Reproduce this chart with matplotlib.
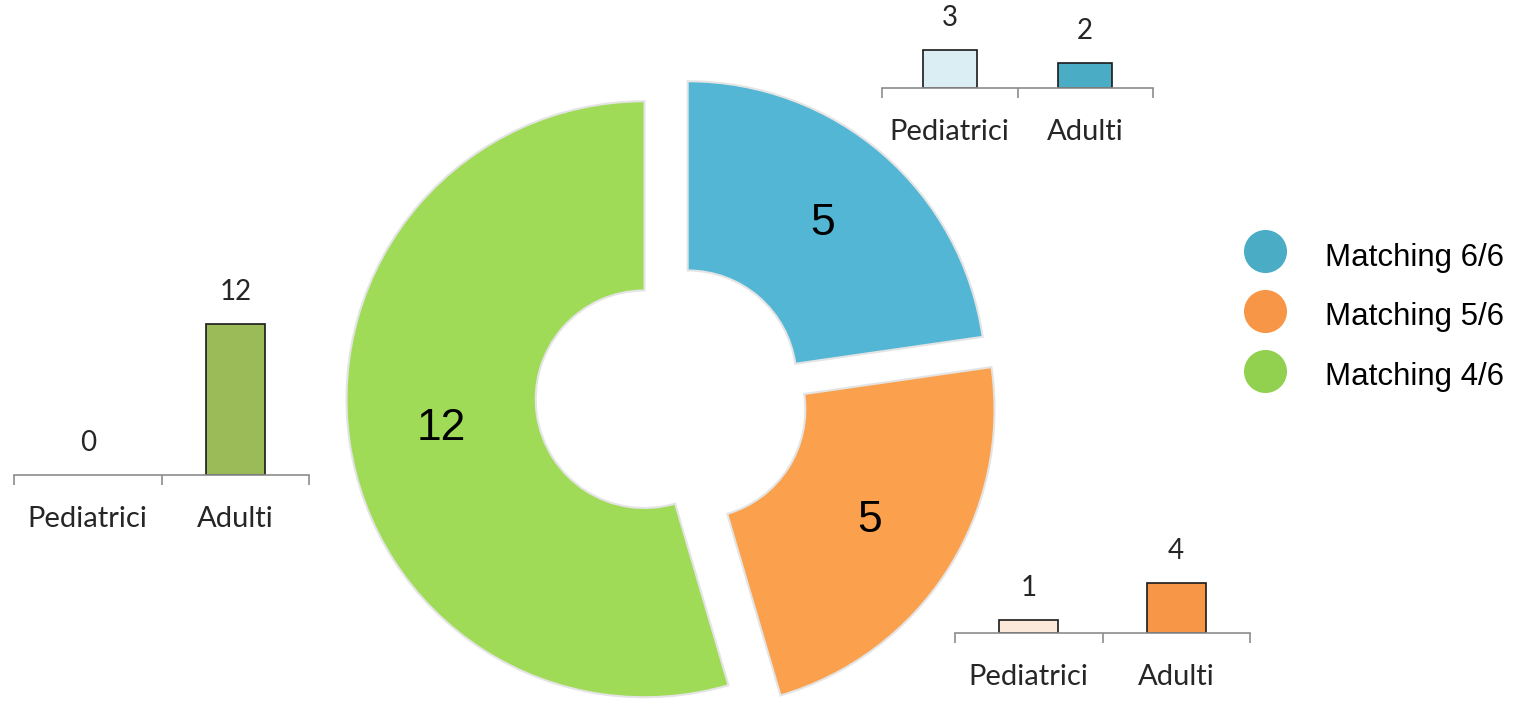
import matplotlib
matplotlib.use("Agg")
import matplotlib.pyplot as plt
from matplotlib.lines import Line2D

# ---- data ----
categories = ["Matching 6/6", "Matching 5/6", "Matching 4/6"]
totals = [5, 5, 12]
sub_categories = ["Pediatrici", "Adulti"]
pediatrici = [3, 1, 0]
adulti = [2, 4, 12]

# ---- style ----
donut_colors = ["#53B6D5", "#FBA04C", "#9FDB57"]
legend_colors = ["#4BACC6", "#F79646", "#92D050"]
bar_colors = [("#DAEEF3", "#4BACC6"), ("#FDE9D9", "#F79646"), ("#EBF1DE", "#9BBB59")]
R = 298
explode = [0.07 * R, 0.09 * R, 0.10 * R]

W, H = 1523, 705
fig = plt.figure(figsize=(W / 100, H / 100), dpi=100)

ax = fig.add_axes([0, 0, 1, 1])
wedges, texts, autotexts = ax.pie(
    totals, colors=donut_colors, startangle=90, counterclock=False,
    explode=explode, center=(674, H - 395), radius=R,
    autopct=lambda p: f"{round(p * sum(totals) / 100)}", pctdistance=0.69,
    wedgeprops=dict(width=R * 0.635, edgecolor="#E4E4E4", linewidth=1.5),
    textprops=dict(fontsize=32, color="black", family="Liberation Sans"),
)
ax.set_xlim(0, W)
ax.set_ylim(0, H)
ax.axis("off")

handles = [Line2D([], [], marker="o", linestyle="none", markersize=32,
                  markerfacecolor=c, markeredgecolor="white", markeredgewidth=1)
           for c in legend_colors]
fig.legend(handles, categories, loc="center left",
           bbox_to_anchor=(1227 / W, 1 - 315 / H), frameon=False,
           prop=dict(family="Liberation Sans", size=22.5),
           handlelength=1.4, handleheight=1.4, handletextpad=1.25,
           labelspacing=0.76, borderpad=0)

# small bar charts: (left px, axis y px from top, width px, data index)
px_per_unit = 12.6
bar_specs = [
    (14, 475, 295, 2),
    (882, 88, 271, 0),
    (955, 633, 295, 1),
]
for left, base, width, idx in bar_specs:
    top_units = 14
    h_px = top_units * px_per_unit
    bax = fig.add_axes([left / W, (H - base) / H, width / W, h_px / H])
    bax.patch.set_alpha(0)
    vals = [pediatrici[idx], adulti[idx]]
    bars = bax.bar([0, 1], vals, width=0.4,
                   color=bar_colors[idx], edgecolor="#1a1a1a",
                   linewidth=[1.2 if v > 0 else 0 for v in vals])
    for b, v in zip(bars, vals):
        bax.annotate(f"{v}", (b.get_x() + b.get_width() / 2, v),
                     xytext=(0, 23), textcoords="offset points",
                     ha="center", va="center", fontsize=20,
                     family="Lato", color="#262626")
    bax.set_xlim(-0.5, 1.5)
    bax.set_ylim(0, top_units)
    for s in ["top", "right", "left"]:
        bax.spines[s].set_visible(False)
    bax.spines["bottom"].set_color("#8C8C8C")
    bax.spines["bottom"].set_linewidth(1.2)
    bax.set_yticks([])
    bax.set_xticks([0, 1], sub_categories)
    bax.set_xticks([-0.5, 0.5, 1.5], minor=True)
    bax.tick_params(axis="x", which="major", length=0, pad=22,
                    labelsize=21, labelcolor="#262626")
    bax.tick_params(axis="x", which="minor", length=7, width=1.2,
                    color="#8C8C8C", direction="out")
    for t in bax.get_xticklabels():
        t.set_family("Lato")

fig.savefig("out.png", dpi=100)
